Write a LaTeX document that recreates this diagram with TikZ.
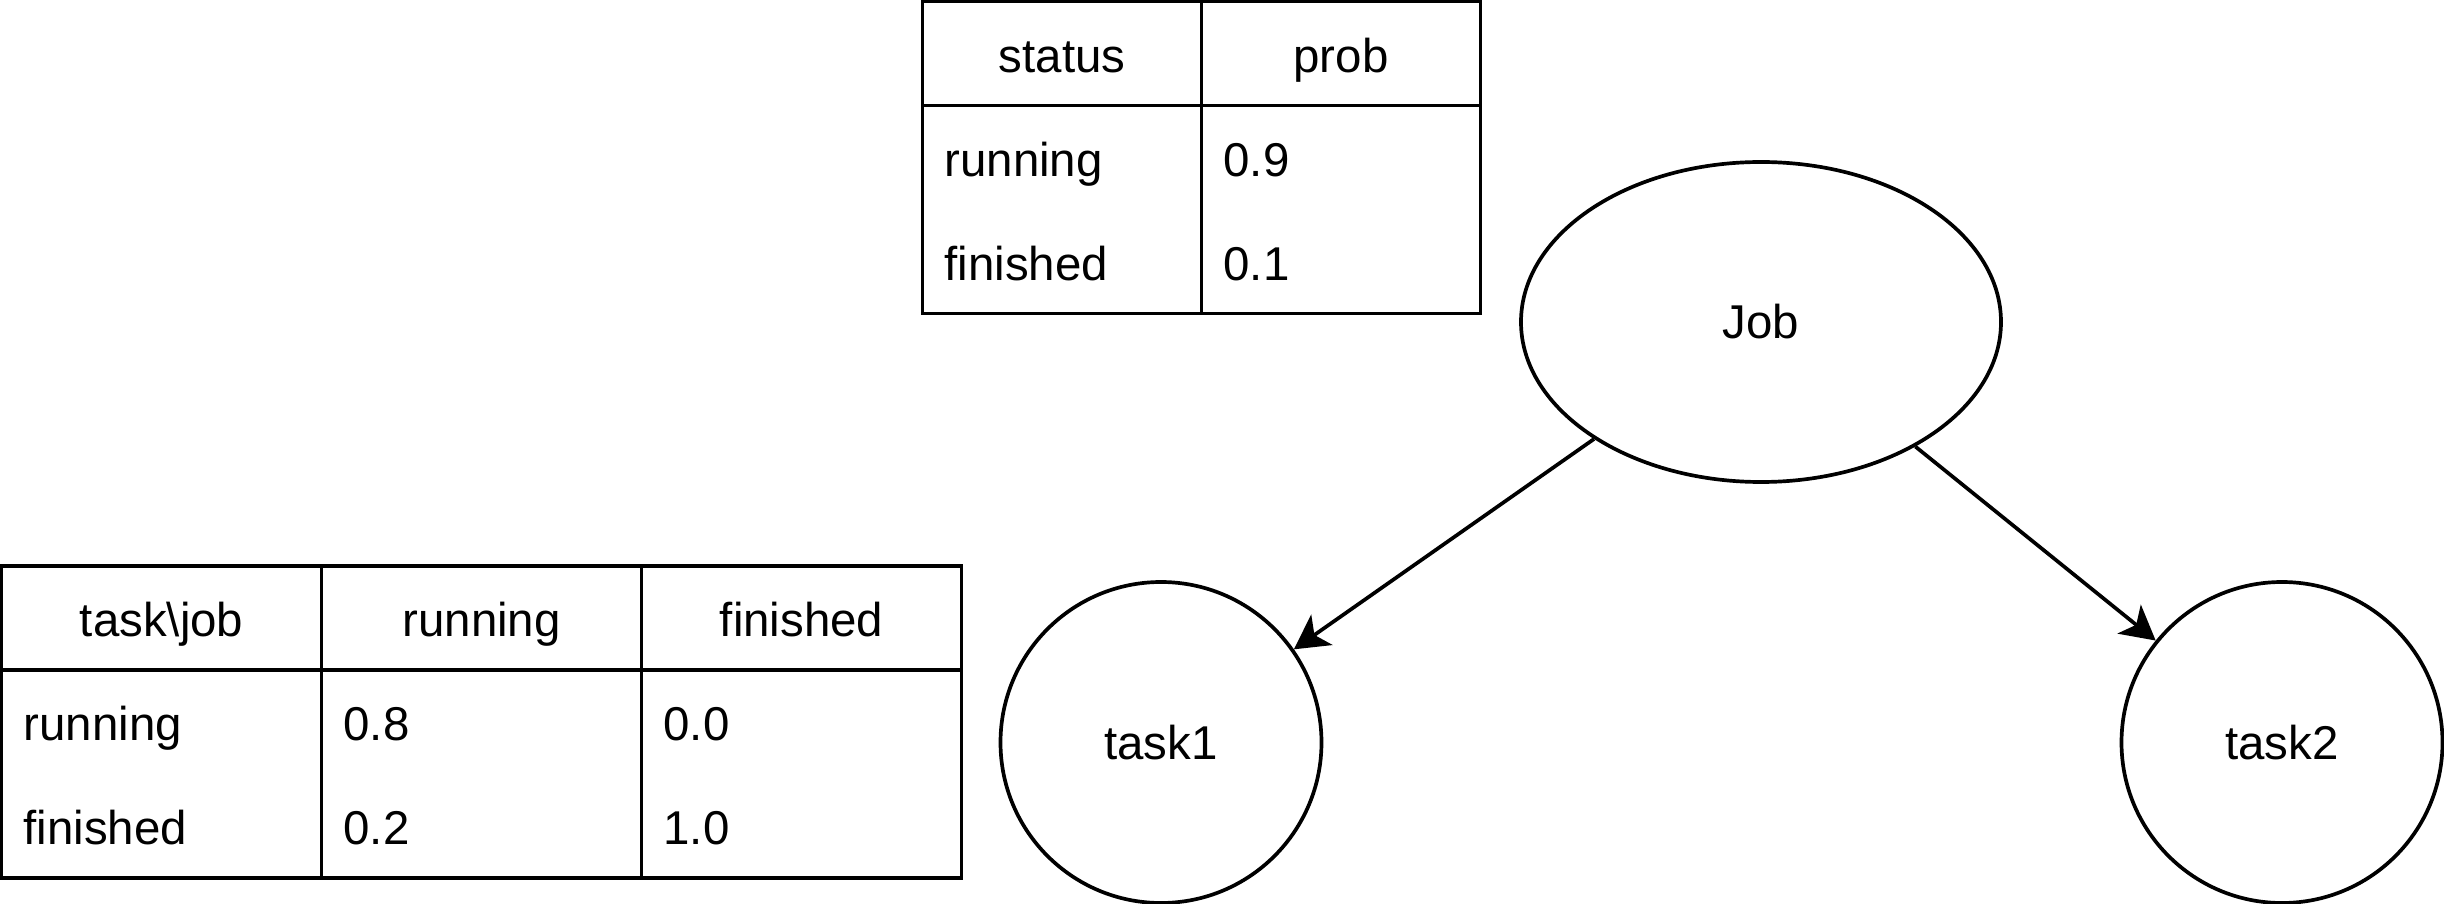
\documentclass[tikz,border=0pt]{standalone}
\usepackage{fontspec}
\setmainfont{Liberation Sans}
\usetikzlibrary{shapes.geometric,arrows.meta}

\begin{document}
\begin{tikzpicture}[
  font=\fontsize{13.5}{16}\selectfont,
  line width=1.05pt,
  hd/.style={rectangle, draw, minimum width=#1, minimum height=1.04cm, inner sep=0pt, text height=0.42cm, text depth=0.05cm, align=center},
  bd/.style={rectangle, draw, text width=#1, minimum height=2.08cm, inner xsep=0.22cm, inner ysep=0pt, font=\fontsize{13.5}{29.6}\selectfont, text height=0.42cm, text depth=1.09cm, align=left},
  var/.style={draw, inner sep=0pt},
  ar/.style={-{Stealth[length=3.4mm, width=3.7mm, inset=0.9mm]}}
]
\useasboundingbox (0,0) rectangle (24.44,-9.04);
% prior of job
\node[hd=2.79cm]   (js)  at (10.62,-0.536) {status};
\node[hd=2.79cm]   (jp)  at (13.41,-0.536) {prob};
\node[bd=2.35cm]   (jv)  at (10.62,-2.096) {running\\finished};
\node[bd=2.35cm]   (jpv) at (13.41,-2.096) {0.9\\0.1};
% task given job
\node[hd=3.2cm]    (tj)  at (1.616,-6.18) {task\textbackslash job};
\node[hd=3.2cm]    (tjr) at (4.816,-6.18) {running};
\node[hd=3.2cm]    (tjf) at (8.016,-6.18) {finished};
\node[bd=2.76cm]   (tv)  at (1.616,-7.74) {running\\finished};
\node[bd=2.76cm]   (trv) at (4.816,-7.74) {0.8\\0.2};
\node[bd=2.76cm]   (tfv) at (8.016,-7.74) {0.0\\1.0};
% network
\node[var, ellipse, minimum width=4.8cm, minimum height=3.2cm] (job)   at (17.61,-3.22)  {Job};
\node[var, circle, minimum size=3.21cm]                        (task1) at (11.61,-7.425) {task1};
\node[var, circle, minimum size=3.21cm]                        (task2) at (22.82,-7.425) {task2};
\draw[ar] (job) -- (task1);
\draw[ar] (job) -- (task2);
\end{tikzpicture}
\end{document}
